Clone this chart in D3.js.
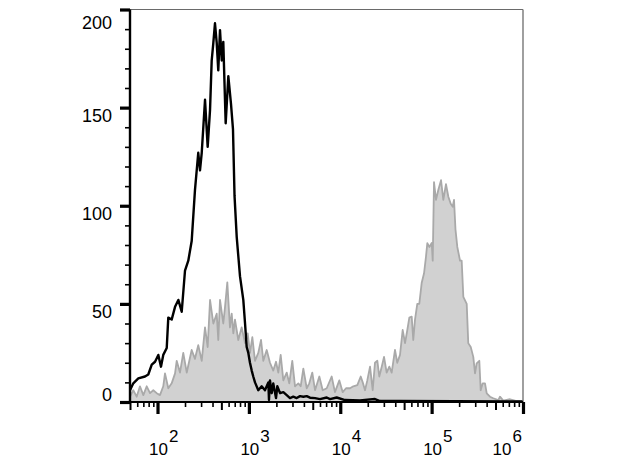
<!DOCTYPE html>
<html>
<head>
<meta charset="utf-8">
<script src="https://cdn.jsdelivr.net/npm/d3@7"></script>
<style>
  html, body { margin: 0; padding: 0; background: #ffffff; }
  svg { display: block; font-family: "Liberation Sans", Arial, sans-serif; }
</style>
</head>
<body>
<svg id="chart" width="617" height="463"></svg>
<script>
// ---- data (log10 of fluorescence intensity, event count) ----
const isoExp = [1.699,1.735,1.790,1.863,1.899,1.937,1.973,2.009,2.038,2.063,2.101,2.118,2.155,2.192,2.228,2.265,2.301,2.337,2.374,2.410,
  2.446,2.465,2.484,2.520,2.549,2.575,2.593,2.611,2.629,2.648,2.665,2.684,2.703,2.720,2.746,2.775,2.804,2.826,2.843,2.867,
  2.903,2.939,2.958,2.976,2.994,3.012,3.031,3.048,3.067,3.103,3.140,3.176,3.213,3.220,3.231,3.250,3.267,3.297,3.311,3.341,
  3.377,3.414,3.450,3.486,3.523,3.560,3.596,3.633,3.669,3.724,3.778,3.852,3.888,3.961,4.052,4.216,4.380,4.435,4.654,6.000];
const isoCount = [6,9.5,12,13,14,19,20.5,24,18,24,27.5,43,42,48.5,52,46,67,72,82,108,
  127,118,127,154,130,149,174,183,193,183,169,189.5,174,183.5,142,166,152,139,105,84,
  64,52,40,28,25,20,16,13,10,6,8,6,10,1,11,4.5,9.5,2,8,4.5,
  5,3.5,2,2.7,2,3,2.7,3,2.2,2,1.5,2.3,1.5,2.3,1,0.8,1.5,0.5,0.5,0.3];

const stainExp = [1.699,1.735,1.772,1.808,1.845,1.882,1.918,1.954,1.991,2.027,
  2.063,2.082,2.118,2.155,2.192,2.210,2.246,2.282,2.320,2.374,
  2.410,2.446,2.484,2.520,2.549,2.575,2.611,2.648,2.665,2.684,
  2.720,2.739,2.764,2.793,2.812,2.830,2.848,2.884,2.921,2.958,
  2.987,3.012,3.038,3.067,3.103,3.133,3.158,3.195,3.231,3.267,
  3.297,3.322,3.348,3.377,3.414,3.442,3.475,3.505,3.541,3.567,
  3.596,3.633,3.661,3.694,3.724,3.771,3.808,3.852,3.906,3.942,
  3.990,4.027,4.063,4.107,4.143,4.187,4.224,4.246,4.271,4.296,
  4.326,4.355,4.380,4.406,4.427,4.454,4.479,4.508,4.537,4.563,
  4.599,4.624,4.654,4.683,4.709,4.734,4.756,4.782,4.799,4.818,
  4.843,4.865,4.891,4.917,4.938,4.953,4.975,5.001,5.012,5.026,
  5.048,5.073,5.103,5.128,5.157,5.183,5.209,5.231,5.245,5.261,
  5.281,5.311,5.329,5.347,5.384,5.401,5.428,5.456,5.475,5.493,
  5.522,5.537,5.559,5.584,5.603,5.639,5.675,5.730,5.748,5.784,
  5.858,5.931,6.000];
const stainCount = [2.7,6,2.7,8,3.5,8,4.5,6,4.5,3.5,
  8,14.6,7,9.5,14.6,21,15,25,15,26.5,
  22,29,21,38,28,52,40,45,31.6,52,
  40,48.5,61,38,45,35,42,31.6,38,30,
  35,25,33,21,25,31.6,21,26.5,20,16,
  20.5,15,24,11,15,9.5,21,8,9.5,8,
  17,7,9.5,15,6,13,6,7,13,5,
  11,5,7,7,8,8.6,13,10,6,11,
  18,6,20,21,13,18,23,15,18,15,
  26.5,20,24,36.7,30,36.7,43,43.5,31.6,42,
  50,50,60.6,65.6,74,81,79,81,72,112,
  103,108,113,103,111,104.6,101,99.5,103,88,
  79,72,72,53.6,50,30,28,23,14.6,19.7,
  21,6,9.5,9.5,4.4,2.7,1.9,1,2.7,0.7,
  1.4,0.5,0.3];

const yMajorTicks = [0, 50, 100, 150, 200];
const yMinorTicks = [10,20,30,40,60,70,80,90,110,120,130,140,160,170,180,190];
const xDecades = [1e2, 1e3, 1e4, 1e5, 1e6];

// ---- layout ----
const svg = d3.select("#chart");
const plotL = 130, plotR = 523, plotT = 9.5, plotB = 402;

const x = d3.scaleLog().domain([50, 1e6]).range([plotL, plotR]);
const y = d3.scaleLinear().domain([0, 200]).range([plotB, plotT]);

const iso = d3.zip(isoExp, isoCount).map(([e, c]) => ({ v: Math.pow(10, e), c }));
const stain = d3.zip(stainExp, stainCount).map(([e, c]) => ({ v: Math.pow(10, e), c }));

// stained sample: filled gray histogram
svg.append("path")
  .datum(stain)
  .attr("d", d3.area().x(d => x(d.v)).y0(y(0)).y1(d => y(d.c)))
  .attr("fill", "#d1d1d1")
  .attr("stroke", "none");
svg.append("path")
  .datum(stain)
  .attr("d", d3.line().x(d => x(d.v)).y(d => y(d.c)))
  .attr("fill", "none")
  .attr("stroke", "#a9a9a9")
  .attr("stroke-width", 1.8)
  .attr("stroke-linejoin", "round");

// control: black line
svg.append("path")
  .datum(iso)
  .attr("d", d3.line().x(d => x(d.v)).y(d => y(d.c)))
  .attr("fill", "none")
  .attr("stroke", "#000")
  .attr("stroke-width", 2.4)
  .attr("stroke-linejoin", "round");

// frame (top and right, gray)
svg.append("line").attr("x1", plotL).attr("x2", plotR).attr("y1", plotT).attr("y2", plotT)
  .attr("stroke", "#6a6a6a").attr("stroke-width", 1.2);
svg.append("line").attr("x1", plotR).attr("x2", plotR).attr("y1", plotT).attr("y2", plotB)
  .attr("stroke", "#777").attr("stroke-width", 1.4);

// ---- x axis ----
const mantissa = v => Math.round(v / Math.pow(10, Math.floor(Math.log10(v) + 1e-9)));
const xAll = [];
for (let p = 1; p <= 5; p++) for (let m = 1; m <= 9; m++) {
  const v = m * Math.pow(10, p);
  if (v >= 50 && v <= 1e6) xAll.push(v);
}
const xMinor = xAll.filter(v => !xDecades.includes(v) && mantissa(v) !== 5);
const xMid = xAll.filter(v => mantissa(v) === 5);

function styleAxis(g, w) {
  g.select(".domain").remove();
  g.selectAll(".tick line").attr("stroke", "#000").attr("stroke-width", w);
}

svg.append("g").attr("transform", `translate(0,${plotB})`)
  .call(d3.axisBottom(x).tickValues(xMinor).tickSize(5).tickFormat(""))
  .call(g => styleAxis(g, 1.6));
svg.append("g").attr("transform", `translate(0,${plotB})`)
  .call(d3.axisBottom(x).tickValues(xMid).tickSize(8).tickFormat(""))
  .call(g => styleAxis(g, 2));
const xMajorG = svg.append("g").attr("transform", `translate(0,${plotB})`)
  .call(d3.axisBottom(x).tickValues(xDecades).tickSize(12).tickFormat(d => d))
  .call(g => styleAxis(g, 3.2));

xMajorG.selectAll(".tick text").each(function (d) {
  const t = d3.select(this);
  const shift = d === 1e6 ? -31 : -9;
  t.text(null)
    .attr("fill", "#000")
    .attr("font-size", 17)
    .attr("text-anchor", "start")
    .attr("x", shift)
    .attr("y", 53)
    .attr("dy", 0);
  t.append("tspan").text("10");
  t.append("tspan").attr("dy", -13.5).attr("dx", 1).text(Math.round(Math.log10(d)));
});

// x axis line
svg.append("line").attr("x1", plotL).attr("x2", plotR).attr("y1", plotB).attr("y2", plotB)
  .attr("stroke", "#000").attr("stroke-width", 2.2);

// ---- y axis ----
svg.append("g").attr("transform", `translate(${plotL},0)`)
  .call(d3.axisLeft(y).tickValues(yMinorTicks).tickSize(5).tickFormat(""))
  .call(g => styleAxis(g, 1.6));
const yMajorG = svg.append("g").attr("transform", `translate(${plotL},0)`)
  .call(d3.axisLeft(y).tickValues(yMajorTicks).tickSize(10).tickPadding(8).tickFormat(d3.format("d")))
  .call(g => styleAxis(g, 3.2));
yMajorG.selectAll(".tick text")
  .attr("fill", "#000")
  .attr("font-size", 18)
  .attr("dy", d => d === 0 ? -2 : (d === 200 ? 19 : 13.5))
  .attr("y", 0);

// y axis line
svg.append("line").attr("x1", plotL).attr("x2", plotL).attr("y1", plotT).attr("y2", plotB)
  .attr("stroke", "#000").attr("stroke-width", 2.4);
</script>
</body>
</html>
